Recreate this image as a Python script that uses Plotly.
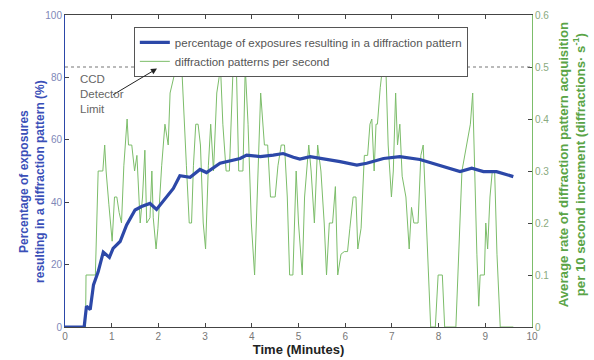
import plotly.graph_objects as go

# Blue series: percentage of exposures resulting in a diffraction pattern
time_pct = [0, 0.41, 0.46, 0.54, 0.61, 0.71, 0.82, 0.95, 1.03, 1.18, 1.32, 1.5, 1.64, 1.82,
            1.96, 2.1, 2.32, 2.46, 2.68, 2.89, 3.03, 3.32, 3.75, 3.89, 4.18, 4.46, 4.67, 4.89,
            5.03, 5.25, 5.53, 5.89, 6.25, 6.46, 6.82, 7.17, 7.6, 7.89, 8.17, 8.46, 8.71, 8.96,
            9.24, 9.6]
pct = [0, 0, 6.7, 5.6, 13.5, 17.7, 24, 22.3, 25.2, 27.4, 32.7, 37.5, 38.6, 39.6,
       37.7, 40.2, 44.4, 48.5, 48, 50.5, 49.5, 52.5, 54, 55.1, 54.6, 55.1, 55.6, 54.4,
       53.8, 54.6, 54, 53, 51.9, 52.5, 54, 54.6, 53.7, 52.4, 50.9, 49.8, 50.9, 49.8,
       49.8, 48.2]

# Green series: diffraction patterns per second
time_rate = [0, 0.44, 0.45, 0.65, 0.71, 0.81, 0.85, 0.88, 0.94, 1.01, 1.06, 1.11, 1.16, 1.21,
             1.26, 1.33, 1.36, 1.43, 1.49, 1.54, 1.61, 1.66, 1.71, 1.75, 1.82, 1.86, 1.89, 1.95,
             1.99, 2.07, 2.14, 2.21, 2.25, 2.32, 2.38, 2.5, 2.55, 2.6, 2.66, 2.71, 2.75, 2.8,
             2.85, 2.9, 2.96, 3.01, 3.07, 3.12, 3.18, 3.25, 3.3, 3.33, 3.38, 3.45, 3.52, 3.6,
             3.67, 3.72, 3.81, 3.86, 3.92, 3.99, 4.06, 4.12, 4.19, 4.27, 4.34, 4.4, 4.5, 4.56,
             4.63, 4.7, 4.76, 4.81, 4.88, 4.95, 5.0, 5.08, 5.13, 5.22, 5.27, 5.34, 5.41, 5.48,
             5.55, 5.6, 5.66, 5.73, 5.79, 5.84, 5.91, 5.98, 6.05, 6.1, 6.17, 6.23, 6.27, 6.34,
             6.41, 6.48, 6.53, 6.57, 6.62, 6.66, 6.69, 6.75, 6.8, 6.87, 6.92, 6.99, 7.03, 7.08,
             7.12, 7.17, 7.22, 7.3, 7.37, 7.42, 7.47, 7.56, 7.62, 7.67, 7.76, 7.83, 7.93, 7.99,
             8.08, 8.13, 8.37, 8.5, 8.6, 8.68, 8.73, 8.77, 8.82, 8.86, 8.89, 8.98, 9.01, 9.05,
             9.1, 9.15, 9.2, 9.25, 9.32, 9.6]
rate = [0, 0, 0.1, 0.1, 0.3, 0.3, 0.35, 0.3, 0.235, 0.165, 0.25, 0.25, 0.22, 0.2,
        0.31, 0.4, 0.35, 0.35, 0.3, 0.33, 0.2, 0.25, 0.34, 0.2, 0.21, 0.3, 0.21, 0.15,
        0.19, 0.31, 0.39, 0.35, 0.45, 0.48, 0.5, 0.5, 0.39, 0.31, 0.2, 0.2, 0.31, 0.39,
        0.39, 0.35, 0.2, 0.15, 0.31, 0.39, 0.3, 0.45, 0.48, 0.5, 0.39, 0.3, 0.3, 0.5,
        0.5, 0.3, 0.3, 0.5, 0.39, 0.2, 0.1, 0.25, 0.45, 0.35, 0.35, 0.25, 0.25, 0.31,
        0.35, 0.35, 0.25, 0.1, 0.1, 0.3, 0.2, 0.1, 0.25, 0.35, 0.3, 0.2, 0.35, 0.3,
        0.2, 0.1, 0.2, 0.2, 0.27, 0.1, 0.14, 0.145, 0.145, 0.19, 0.25, 0.25, 0.15, 0.19,
        0.33, 0.33, 0.39, 0.4, 0.3, 0.39, 0.39, 0.46, 0.5, 0.5, 0.35, 0.25, 0.3, 0.45,
        0.35, 0.39, 0.29, 0.25, 0.15, 0.23, 0.2, 0.2, 0.33, 0.35, 0.16, 0, 0, 0.1,
        0.1, 0, 0, 0.3, 0.35, 0.39, 0.45, 0.3, 0.14, 0.04, 0.1, 0.1, 0.2, 0.15,
        0.25, 0.3, 0.3, 0.14, 0, 0]

ccd_limit = 0.5

BLUE = "#2c48a8"
GREEN = "#7cbd6a"
FONT = "Liberation Sans, Arial, sans-serif"

fig = go.Figure()
fig.add_trace(go.Scatter(x=time_rate, y=rate, mode="lines", yaxis="y",
                         line=dict(color=GREEN, width=1),
                         name="diffraction patterns per second", legendrank=2))
fig.add_trace(go.Scatter(x=time_pct, y=pct, mode="lines", yaxis="y2",
                         line=dict(color=BLUE, width=3.2),
                         name="percentage of exposures resulting in a diffraction pattern",
                         legendrank=1))

fig.add_shape(type="line", xref="x", yref="y", x0=0, x1=10, y0=ccd_limit, y1=ccd_limit,
              line=dict(color="#777777", width=1.2, dash="dot"))

# arrow pointing at the detector limit line
fig.add_annotation(x=1.97, y=0.497, xref="x", yref="y", ax=1.0, ay=0.445,
                   axref="x", ayref="y", showarrow=True, arrowhead=2, arrowsize=1.2,
                   arrowwidth=1, arrowcolor="#222222", text="")
fig.add_annotation(x=0.27, y=0.492, xref="x", yref="y", text="CCD<br>Detector<br>Limit",
                   showarrow=False, xanchor="left", yanchor="top", align="left",
                   font=dict(family=FONT, size=11.5, color="#666666"))

# axis titles (rotated annotations for exact placement)
fig.add_annotation(x=-0.0707, y=0.468, xref="paper", yref="paper", textangle=-90,
                   showarrow=False, xanchor="center", yanchor="middle",
                   text="<b>Percentage of exposures<br>resulting in a diffraction pattern (%)</b>",
                   font=dict(family=FONT, size=12, color="#3a4fb8"))
fig.add_annotation(x=1.0846, y=0.52, xref="paper", yref="paper", textangle=-90,
                   showarrow=False, xanchor="center", yanchor="middle",
                   text="<b>Average rate of diffraction pattern acquisition<br>"
                        "per 10 second increment (diffractions· s<sup>-1</sup>)</b>",
                   font=dict(family=FONT, size=13.2, color="#5aa447"))

fig.update_layout(
    width=594, height=360,
    margin=dict(l=65, r=62, t=15, b=33),
    paper_bgcolor="white", plot_bgcolor="white",
    font=dict(family=FONT),
    showlegend=True,
    legend=dict(x=0.505, y=0.962, xanchor="center", yanchor="top",
                bgcolor="white", bordercolor="#555555", borderwidth=1,
                font=dict(family=FONT, size=11.5, color="#555555"),
                tracegroupgap=0, itemwidth=30),
    xaxis=dict(range=[0, 10], dtick=1, ticks="inside", ticklen=4, mirror="ticks",
               showline=True, linecolor="#444444", linewidth=1, showgrid=False,
               zeroline=False, automargin=False, tickfont=dict(size=10, color="#777777"),
               title=dict(text="<b>Time (Minutes)</b>", standoff=1,
                          font=dict(size=13, color="#222222"))),
    yaxis=dict(range=[0, 0.6], dtick=0.1, side="right", ticks="inside", ticklen=4,
               showline=True, linecolor=GREEN, linewidth=1, showgrid=False,
               zeroline=False, automargin=False, tickfont=dict(size=10, color="#8aaa80")),
    yaxis2=dict(range=[0, 100], dtick=20, side="left", overlaying="y", ticks="inside",
                ticklen=4, showline=True, linecolor=BLUE, linewidth=1, showgrid=False,
                zeroline=False, automargin=False, tickfont=dict(size=10, color="#8088b8")),
)

fig.write_html("out.html", config={"displayModeBar": False},
               post_script="document.body.style.margin='0';")
